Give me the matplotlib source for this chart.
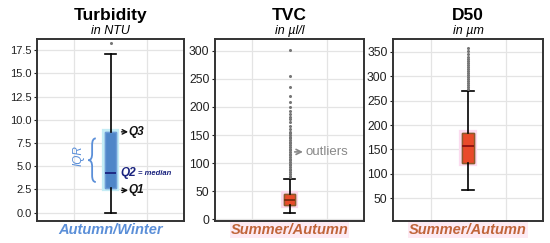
import matplotlib
matplotlib.use("Agg")
import matplotlib.pyplot as plt
import matplotlib.patheffects as pe
from matplotlib.path import Path
from matplotlib.patches import PathPatch

plt.rcParams['font.family'] = ['Liberation Sans', 'DejaVu Sans']

# box statistics
titles = ['Turbidity', 'TVC', 'D50']
units = ['in NTU', 'in µl/l', 'in µm']
seasons = ['Autumn/Winter', 'Summer/Autumn', 'Summer/Autumn']

q1 = [2.7, 25, 123]
med = [4.3, 35, 157]
q3 = [8.7, 45, 183]
whislo = [0.0, 11, 68]
whishi = [17.1, 72, 270]

fliers_turb = [18.3]
fliers_tvc = [75, 78, 81, 84, 87, 90, 93, 96, 99, 102, 105, 108, 111, 114, 117,
              120, 123, 126, 129, 132, 135, 138, 141, 144, 147, 150, 153, 156,
              160, 167, 173, 178, 183, 188, 193, 200, 208, 220, 235, 255, 302]
fliers_d50 = [274, 278, 282, 286, 290, 294, 298, 302, 306, 310, 314, 318, 322,
              326, 330, 335, 340, 345, 352, 358]
fliers = [fliers_turb, fliers_tvc, fliers_d50]

ylims = [(-0.9, 18.7), (-3, 321), (3.6, 376)]
yticks = [[0, 2.5, 5, 7.5, 10, 12.5, 15, 17.5],
          [0, 50, 100, 150, 200, 250, 300],
          [50, 100, 150, 200, 250, 300, 350]]
tick_fs = [8, 8.7, 8.7]

box_fc = ['#4f86c8', '#e94a2a', '#e94a2a']
box_ec = ['#6d9bd6', '#8b5a2b', '#8b5a2b']
med_c = ['#1a237e', '#7a2a10', '#8b1010']
glow = ['#c4ecf5', '#fad8ea', '#fcdcf0']
season_c = ['#5b8fd8', '#c0653a', '#c0653a']
season_bg = ['none', '#fdeaf3', '#fdeaf3']

fig = plt.figure(figsize=(5.5, 2.43), dpi=100)
lefts = [37 / 550, 215 / 550, 393 / 550]
widths = [147 / 550, 149 / 550, 150 / 550]

axes = []
for i in range(3):
    ax = fig.add_axes([lefts[i], 22 / 243, widths[i], 182 / 243])
    axes.append(ax)
    stats = [dict(med=med[i], q1=q1[i], q3=q3[i], whislo=whislo[i],
                  whishi=whishi[i], fliers=fliers[i])]
    bp = ax.bxp(stats, positions=[0], widths=0.15, patch_artist=True,
                boxprops=dict(facecolor=box_fc[i], edgecolor=box_ec[i], linewidth=1),
                medianprops=dict(color=med_c[i], linewidth=1.3),
                whiskerprops=dict(color='black', linewidth=1.2),
                capprops=dict(color='black', linewidth=1.2),
                capwidths=0.15,
                flierprops=dict(marker='o', markersize=1.2, markerfacecolor='#777777',
                                markeredgecolor='#777777', linestyle='none'))
    for b in bp['boxes']:
        b.set_path_effects([pe.withStroke(linewidth=4.5, foreground=glow[i]), pe.Normal()])
    ax.set_xlim(-1, 1)
    ax.set_ylim(*ylims[i])
    ax.set_yticks(yticks[i])
    if i == 0:
        ax.set_yticklabels(['%.1f' % t for t in yticks[i]])
    ax.set_xticks([-0.5, 0.5])
    ax.set_xticklabels([])
    ax.tick_params(axis='x', length=0)
    ax.tick_params(axis='y', labelsize=tick_fs[i], length=2.5, width=0.8, pad=1.5,
                   colors='#222222')
    ax.grid(True, color='#e4e4e4', linewidth=0.9)
    ax.set_axisbelow(True)
    for s in ax.spines.values():
        s.set_linewidth(1.4)
        s.set_color('#333333')
    ax.text(0.5, 1.13, titles[i], transform=ax.transAxes, ha='center', va='center',
            fontsize=12.5, fontweight='bold')
    ax.text(0.5, 1.045, units[i], transform=ax.transAxes, ha='center', va='center',
            fontsize=9, style='italic')
    ax.text(0.5, -0.05, seasons[i], transform=ax.transAxes, ha='center', va='center',
            fontsize=10.5, fontweight='bold', style='italic', color=season_c[i],
            bbox=dict(facecolor=season_bg[i], edgecolor='none', pad=0.5))

# annotations on the turbidity panel
ax = axes[0]
arrow = dict(arrowstyle='->', color='#111111', lw=1.0, shrinkA=0, shrinkB=0,
             mutation_scale=8)
for yv, lab in [(8.7, 'Q3'), (2.4, 'Q1')]:
    ax.annotate('', xy=(0.24, yv), xytext=(0.15, yv), arrowprops=arrow)
    ax.text(0.25, yv, lab, ha='left', va='center', fontsize=8.5,
            fontweight='bold', style='italic', color='#111111')
ax.text(0.13, 4.3, 'Q2', ha='left', va='center', fontsize=8.5,
        fontweight='bold', style='italic', color='#1a237e')
ax.text(0.38, 4.25, '= median', ha='left', va='center', fontsize=5.5,
        fontweight='bold', style='italic', color='#1a237e')

# curly brace for the IQR
xe, xt, yt, yb = -0.20, -0.30, 8.0, 3.3
ym = (yt + yb) / 2
xm = (xe + xt) / 2
d = 0.7
verts = [(xe, yt), (xm, yt), (xm, yt - d), (xm, ym + d),
         (xm, ym), (xt, ym),
         (xm, ym), (xm, ym - d), (xm, yb + d),
         (xm, yb), (xe, yb)]
codes = [Path.MOVETO, Path.CURVE3, Path.CURVE3, Path.LINETO,
         Path.CURVE3, Path.CURVE3,
         Path.CURVE3, Path.CURVE3, Path.LINETO,
         Path.CURVE3, Path.CURVE3]
ax.add_patch(PathPatch(Path(verts, codes), facecolor='none', edgecolor='#5b8fd8', lw=1.3))
ax.text(-0.43, 6.2, 'IQR', ha='center', va='center', fontsize=8.5,
        style='italic', color='#5b8fd8', rotation=90)

# outliers note on TVC panel
axes[1].annotate('', xy=(0.18, 120), xytext=(0.07, 120),
                 arrowprops=dict(arrowstyle='->', color='#888888', lw=1.2,
                                 shrinkA=0, shrinkB=0, mutation_scale=9))
axes[1].text(0.21, 120, 'outliers', ha='left', va='center', fontsize=9.5,
             color='#888888')

fig.savefig('out.png', dpi=100)
